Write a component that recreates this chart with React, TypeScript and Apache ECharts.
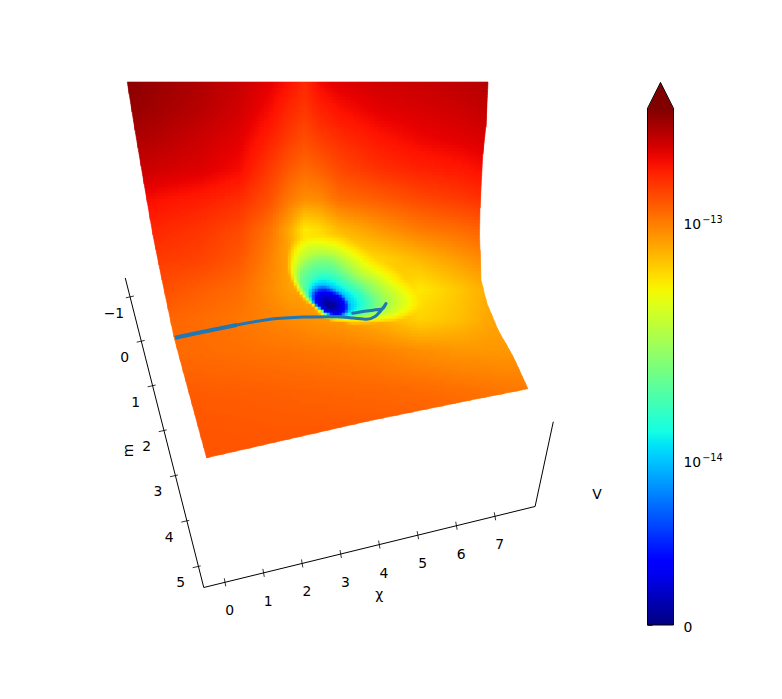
import React, { useEffect, useRef } from "react";
import * as echarts from "echarts";

// ---- data ----
const chiTicks = [0, 1, 2, 3, 4, 5, 6, 7];
const mTicks = [-1, 0, 1, 2, 3, 4, 5];
const axisTitles = ["\u03c7", "m", "V"];

// Surface outline in the projected plane: [y, x] on left / right, [x, y] at the front
const leftEdge = [[82, 127.3], [130, 135], [180, 143.5], [235, 153], [270, 160], [338, 174.3], [400, 191], [458, 206.7]];
const rightEdge = [[82, 488], [125, 486], [155, 482.7], [208, 480], [235, 479.5], [280, 481], [303, 486.7], [330, 498], [357, 513.3], [389, 528]];
const frontEdge = [[206.7, 457.7], [368, 421], [468.3, 400.5], [528, 388.7]];

// Far field of V (unit 1e-14) on a projected grid
const farX = [120, 160, 200, 240, 270, 290, 305, 320, 340, 380, 420, 460, 490, 530];
const farY = [80, 110, 140, 170, 200, 230, 260, 290, 320, 350, 390, 430, 470];
const farV = [
  [29, 26.5, 24.5, 22, 19.5, 17.5, 15.5, 18.5, 20, 21.5, 22, 23, 24, 25],
  [28, 25.5, 23.5, 21, 18, 15.5, 14.3, 16, 17.5, 19.5, 20.5, 21.5, 22.5, 23],
  [25, 23.5, 21.5, 19.5, 16, 13.8, 12.7, 13.8, 15, 17, 18.5, 19.5, 20.5, 21],
  [23, 21, 20, 18, 14, 11.9, 10.9, 11.5, 13, 14.8, 16, 16.8, 18, 19],
  [19, 17.5, 16.5, 15, 12.5, 10, 9, 9.2, 10.7, 11.7, 13, 14, 15, 16],
  [17, 15.5, 14.5, 13, 10.4, 7.8, 5.5, 6, 7.2, 8.6, 10, 10.8, 11.7, 12.5],
  [15, 14, 13.5, 12, 9.6, 8, 6, 5.5, 5.5, 6.2, 7.2, 8.4, 9.5, 10],
  [13, 12.7, 11.7, 10.8, 9.2, 8.2, 8, 8, 8, 7, 5.6, 6.7, 7.8, 8],
  [11.5, 11.3, 10.8, 10.2, 9.6, 9.3, 9, 8.7, 8.5, 7.5, 6.3, 7, 8, 8.5],
  [11, 10.9, 10.8, 10.6, 10.4, 10.3, 10.2, 10.1, 10, 9.6, 9, 8.6, 8.6, 8.6],
  [11.9, 11.8, 11.7, 11.6, 11.5, 11.4, 11.3, 11.3, 11.2, 11.1, 10.9, 10.6, 10.3, 10],
  [12.2, 12.2, 12.2, 12.1, 12, 12, 12, 12, 12, 11.9, 11.8, 11.6, 11.4, 11.2],
  [12.4, 12.4, 12.4, 12.4, 12.3, 12.3, 12.3, 12.3, 12.3, 12.2, 12.2, 12.1, 12, 12],
];

// The well: contour levels of V (unit 1e-14) and their radius per direction around the minimum
const wellCentre = [330, 306];
const wellLevels = [0.35, 1, 1.7, 2.5, 3.5, 5, 7];
const wellRadii = [
  [15, 20, 37, 47, 60, 79, 100],
  [14, 18, 33, 42, 53, 66, 85],
  [13, 17, 28, 36.5, 44, 56, 72],
  [12, 17, 28, 37, 46, 57, 70],
  [13, 19, 31, 44, 52, 62, 75],
  [15, 22.5, 33, 46, 54, 67, 78],
  [17, 24, 30, 42, 47, 52, 58],
  [15, 20.5, 23, 25, 27, 30, 33],
  [12, 13.5, 14, 14.5, 14.8, 15, 18],
  [8, 9.5, 10, 10.5, 11, 12, 14],
  [7, 8, 8.7, 9.5, 10.2, 11, 13],
  [7.5, 8.5, 9, 10, 10.8, 11.5, 13],
  [8, 9, 9.5, 10.5, 11.2, 12, 14],
  [9, 10.5, 11.2, 12, 13, 14, 17],
  [12.5, 13.5, 14.5, 16, 17.5, 19, 24],
  [15, 19, 24, 28, 31, 35, 45],
];

// Trajectory drawn on the surface, in the projected plane
const trajectoryThick = [[175, 337.7], [203.3, 331.7], [236.7, 325]];
const trajectory = [[236.7, 325], [270, 319.3], [303.3, 317], [336.7, 316.7], [353.3, 318], [366.7, 319.3], [375, 316.5], [381, 310.5], [386, 303.5], [383, 308.5], [380, 309.3], [366.7, 311], [352.7, 313.3]];

// Colour bar ticks (V in unit 1e-14)
const barMajor = [0, 1, 10];
const barMinor = [2, 3, 4, 5, 6, 7, 8, 9, 20, 30];
const barLabels = ["0", "{a|10}{b|\u221214}", "{a|10}{b|\u221213}"];
const barMax = 30;

// ---- scales ----
const T_ZERO = -0.687;
const T_TOP = Math.log10(barMax);
const tOf = (v: number) => (v >= 1 ? Math.log10(v) : T_ZERO * (1 - v));
const normOfT = (t: number) => Math.max(0, Math.min(1, (t - T_ZERO) / (T_TOP - T_ZERO)));

const jetR = [[0, 0], [0.35, 0], [0.66, 1], [0.89, 1], [1, 0.5]];
const jetG = [[0, 0], [0.125, 0], [0.375, 1], [0.64, 1], [0.91, 0], [1, 0]];
const jetB = [[0, 0.5], [0.11, 1], [0.34, 1], [0.65, 0], [1, 0]];
const pw = (tb: number[][], x: number) => {
  if (x <= tb[0][0]) return tb[0][1];
  for (let i = 1; i < tb.length; i++) {
    if (x <= tb[i][0]) {
      const f = (x - tb[i - 1][0]) / (tb[i][0] - tb[i - 1][0]);
      return tb[i - 1][1] + f * (tb[i][1] - tb[i - 1][1]);
    }
  }
  return tb[tb.length - 1][1];
};
const jet = (n: number) =>
  `rgb(${Math.round(pw(jetR, n) * 255)},${Math.round(pw(jetG, n) * 255)},${Math.round(pw(jetB, n) * 255)})`;

const seg = (arr: number[], v: number) => {
  let i = 0;
  while (i < arr.length - 2 && v > arr[i + 1]) i++;
  const f = Math.max(0, Math.min(1, (v - arr[i]) / (arr[i + 1] - arr[i])));
  return [i, f];
};
const farT = farV.map((r) => r.map(tOf));
function farAt(x: number, y: number) {
  const [i, fx] = seg(farX, x);
  const [j, fy] = seg(farY, y);
  const a = farT[j][i] * (1 - fx) + farT[j][i + 1] * fx;
  const b = farT[j + 1][i] * (1 - fx) + farT[j + 1][i + 1] * fx;
  return a * (1 - fy) + b * fy;
}
const levelT = wellLevels.map(tOf);
function radiusAt(level: number, a: number) {
  const n = wellRadii.length;
  const p = ((a / (2 * Math.PI)) * n + n) % n;
  const i = Math.floor(p);
  const f = p - i;
  const g = (k: number) => wellRadii[(i + k + n) % n][level];
  const [p0, p1, p2, p3] = [g(-1), g(0), g(1), g(2)];
  return (
    0.5 *
    (2 * p1 + (-p0 + p2) * f + (2 * p0 - 5 * p1 + 4 * p2 - p3) * f * f + (-p0 + 3 * p1 - 3 * p2 + p3) * f * f * f)
  );
}
function wellAt(x: number, y: number) {
  const dx = x - wellCentre[0];
  const dy = wellCentre[1] - y;
  const r = Math.hypot(dx, dy);
  const a = Math.atan2(dy, dx);
  let prevR = 0;
  let prevT = T_ZERO;
  for (let l = 0; l < wellLevels.length; l++) {
    const rl = radiusAt(l, a);
    if (r <= rl) return prevT + ((r - prevR) / Math.max(rl - prevR, 0.01)) * (levelT[l] - prevT);
    prevR = Math.max(rl, prevR);
    prevT = levelT[l];
  }
  return prevT + ((r - prevR) / prevR) * 1.5;
}
const edge = (tb: number[][], v: number) => {
  const xs = tb.map((p) => p[0]);
  const [i, f] = seg(xs, v);
  return tb[i][1] + f * (tb[i + 1][1] - tb[i][1]);
};
const chiPoint = (c: number) => [225 + 38.57 * c, 582.3 - 9.43 * c];
const mPoint = (m: number) => [140.7 + 10.9 * m + 0.06 * m * m, 341.3 + 44.5 * m + 0.12 * m * m];

// fine shading cells of the surface
const STEP = 3;
const TOP = 82;
type Cell = { pts: number[][]; color: string };
function buildCells() {
  const out: Cell[] = [];
  for (let y = TOP; y < 460; y += STEP) {
    for (let x = 126; x < 530; x += STEP) {
      const corners = [[x, y], [x + STEP, y], [x + STEP, y + STEP], [x, y + STEP]];
      const pts = corners.map(([cx, cy]) => {
        const yy = Math.min(cy, edge(frontEdge, Math.min(528, Math.max(206.7, cx))));
        const xx = Math.max(edge(leftEdge, yy), Math.min(edge(rightEdge, yy), cx));
        return [xx, yy];
      });
      const area =
        Math.abs(
          (pts[2][0] - pts[0][0]) * (pts[3][1] - pts[1][1]) - (pts[3][0] - pts[1][0]) * (pts[2][1] - pts[0][1])
        ) / 2;
      if (area < 0.05) continue;
      const mx = (pts[0][0] + pts[1][0] + pts[2][0] + pts[3][0]) / 4;
      const my = (pts[0][1] + pts[1][1] + pts[2][1] + pts[3][1]) / 4;
      const t = Math.min(farAt(mx, my), wellAt(mx, my));
      out.push({ pts, color: jet(normOfT(t)) });
    }
  }
  return out;
}

const FONT = '13.9px "DejaVu Sans"';

export default function App() {
  const ref = useRef<HTMLDivElement>(null);
  useEffect(() => {
    const chart = echarts.init(ref.current!, undefined, { renderer: "svg" });
    const cells = buildCells();
    const sceneAxes = { xAxisIndex: 0, yAxisIndex: 0 };
    const barAxes = { xAxisIndex: 1, yAxisIndex: 1 };
    const gradStops: { offset: number; color: string }[] = [];
    for (let i = 0; i <= 40; i++) gradStops.push({ offset: i / 40, color: jet(i / 40) });
    const tickT = [...barMajor, ...barMinor].map(tOf);
    const majorT = barMajor.map(tOf);
    const arrowT = T_TOP + (T_TOP - T_ZERO) * 0.05;

    const tickSeries = (
      pts: number[][],
      labels: string[],
      tickVec: number[],
      labelVec: number[]
    ) => ({
      type: "custom",
      ...sceneAxes,
      silent: true,
      data: pts,
      renderItem: (params: any, api: any) => {
        const p = api.coord([api.value(0), api.value(1)]);
        return {
          type: "group",
          children: [
            {
              type: "line",
              shape: { x1: p[0] - tickVec[0], y1: p[1] - tickVec[1], x2: p[0] + tickVec[0], y2: p[1] + tickVec[1] },
              style: { stroke: "#000", lineWidth: 0.8 },
            },
            {
              type: "text",
              x: p[0] + labelVec[0],
              y: p[1] + labelVec[1],
              style: {
                text: labels[params.dataIndex],
                font: FONT,
                fill: "#000",
                textAlign: "center",
                textVerticalAlign: "middle",
              },
            },
          ],
        };
      },
    });

    const titlePositions = [chiPoint(4), mPoint(2), chiPoint(7)];
    const titleOffsets = [[0, 49], [-35, 19.7], [102, -22.7]];

    chart.setOption({
      animation: false,
      backgroundColor: "#fff",
      grid: [
        { left: 0, top: 0, width: 782, height: 699 },
        { left: 647.5, top: 108.3, width: 26, height: 516.7 },
      ],
      xAxis: [
        { type: "value", min: 0, max: 782, show: false, gridIndex: 0 },
        { type: "value", min: 0, max: 1, show: false, gridIndex: 1 },
      ],
      yAxis: [
        { type: "value", min: 0, max: 699, inverse: true, show: false, gridIndex: 0 },
        {
          type: "value",
          gridIndex: 1,
          position: "right",
          min: T_ZERO,
          max: T_TOP,
          splitLine: { show: false },
          axisLine: { show: false },
          axisTick: { show: true, length: 5, customValues: tickT, lineStyle: { color: "#000", width: 0.8 } },
          axisLabel: {
            show: true,
            customValues: majorT,
            margin: 10,
            color: "#000",
            fontFamily: "DejaVu Sans",
            fontSize: 13.9,
            padding: [3, 0, 0, 0],
            formatter: (v: number) => {
              const idx = majorT.findIndex((m) => Math.abs(m - v) < 1e-6);
              return idx >= 0 ? barLabels[idx] : "";
            },
            rich: {
              a: { fontFamily: "DejaVu Sans", fontSize: 13.9, color: "#000" },
              b: { fontFamily: "DejaVu Sans", fontSize: 9.7, color: "#000", padding: [0, 0, 9, 1] },
            },
          },
        },
      ],
      series: [
        {
          type: "custom",
          ...sceneAxes,
          silent: true,
          progressive: 0,
          data: cells.map((c) => c.pts[0]),
          renderItem: (params: any, api: any) => {
            const c = cells[params.dataIndex];
            return {
              type: "polygon",
              shape: { points: c.pts.map((p) => api.coord(p)) },
              style: { fill: c.color, stroke: c.color, lineWidth: 0.6 },
            };
          },
        },
        {
          type: "line",
          ...sceneAxes,
          silent: true,
          symbol: "none",
          data: trajectoryThick,
          lineStyle: { color: "#1f77b4", width: 4 },
        },
        {
          type: "line",
          ...sceneAxes,
          silent: true,
          symbol: "none",
          smooth: 0.25,
          data: trajectory,
          lineStyle: { color: "#1f77b4", width: 3, cap: "round", join: "round" },
        },
        {
          type: "line",
          ...sceneAxes,
          silent: true,
          symbol: "none",
          data: [mPoint(-1.43), chiPoint(-0.55), chiPoint(8.04), [553.3, 421.7]],
          lineStyle: { color: "#000", width: 1 },
        },
        tickSeries(chiTicks.map(chiPoint), chiTicks.map(String), [0.7, 4], [4.7, 28]),
        tickSeries(mTicks.map(mPoint), mTicks.map((m) => String(m).replace("-", "\u2212")), [4, -0.9], [-16, 15.6]),
        {
          type: "custom",
          ...sceneAxes,
          silent: true,
          data: titlePositions,
          renderItem: (params: any, api: any) => {
            const p = api.coord([api.value(0), api.value(1)]);
            const o = titleOffsets[params.dataIndex];
            return {
              type: "text",
              x: p[0] + o[0],
              y: p[1] + o[1],
              rotation: params.dataIndex === 1 ? Math.PI / 2 : 0,
              style: {
                text: axisTitles[params.dataIndex],
                font: FONT,
                fill: "#000",
                textAlign: "center",
                textVerticalAlign: "middle",
              },
            };
          },
        },
        {
          type: "custom",
          ...barAxes,
          silent: true,
          data: [[0, T_ZERO]],
          renderItem: (_p: any, api: any) => {
            const a = api.coord([0, T_ZERO]);
            const b = api.coord([1, T_TOP]);
            const tip = api.coord([0.5, arrowT]);
            const outline = [a, [a[0], b[1]], tip, [b[0], b[1]], [b[0], a[1]], a];
            return {
              type: "group",
              children: [
                {
                  type: "rect",
                  shape: { x: a[0], y: b[1], width: b[0] - a[0], height: a[1] - b[1] },
                  style: {
                    fill: new echarts.graphic.LinearGradient(0, 1, 0, 0, gradStops),
                  },
                },
                {
                  type: "polygon",
                  shape: { points: [[a[0], b[1] + 0.8], tip, [b[0], b[1] + 0.8]] },
                  style: { fill: "#800000" },
                },
                {
                  type: "polyline",
                  shape: { points: outline },
                  style: { stroke: "#000", lineWidth: 1, fill: "none" },
                },
              ],
            };
          },
        },
      ],
    });
    return () => chart.dispose();
  }, []);
  return <div ref={ref} style={{ position: "fixed", left: 0, top: 0, width: 782, height: 699, background: "#fff" }} />;
}
